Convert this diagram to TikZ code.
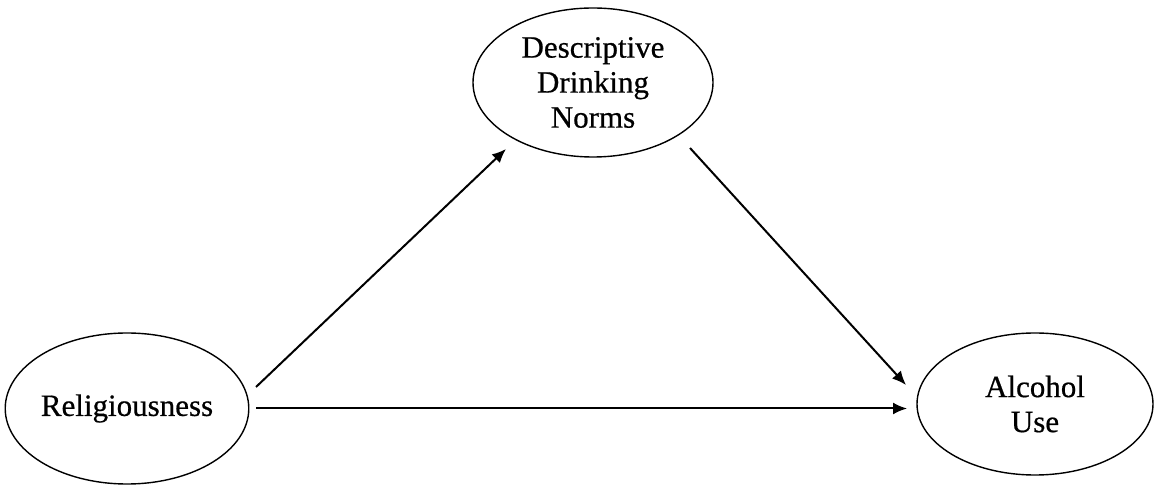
\documentclass[tikz,border=0pt]{standalone}
\usepackage{fontspec}
\setmainfont{Liberation Serif}[FakeBold=0.6]
\usetikzlibrary{shapes.geometric,arrows.meta,calc}
\tikzset{
  construct/.style={ellipse, draw=black, line width=1.4pt, inner sep=0pt,
    align=center, font=\fontsize{31}{35}\selectfont},
  path/.style={line width=2pt, -{Latex[length=14pt,width=12pt]}}
}
\begin{document}
\begin{tikzpicture}[x=1pt,y=1pt]
  \useasboundingbox (0,0) rectangle (1154,487);
  % latent constructs
  \node[construct, minimum width=240pt, minimum height=151pt] (rel) at (127,78.5) {Religiousness};
  \node[construct, minimum width=240pt, minimum height=149pt] (norms) at (593,404.5) {Descriptive\\Drinking\\Norms};
  \node[construct, minimum width=236pt, minimum height=142pt] (alc) at (1035,83) {Alcohol\\Use};
  % mediation paths
  \draw[path] ($(rel)+(129,21.5)$) -- ($(norms)+(-87,-66.5)$);
  \draw[path] ($(norms)+(97,-65.5)$) -- ($(alc)+(-129,19)$);
  \draw[path] ($(rel)+(129,0)$) -- ($(alc)+(-128,-4.5)$);
\end{tikzpicture}
\end{document}
